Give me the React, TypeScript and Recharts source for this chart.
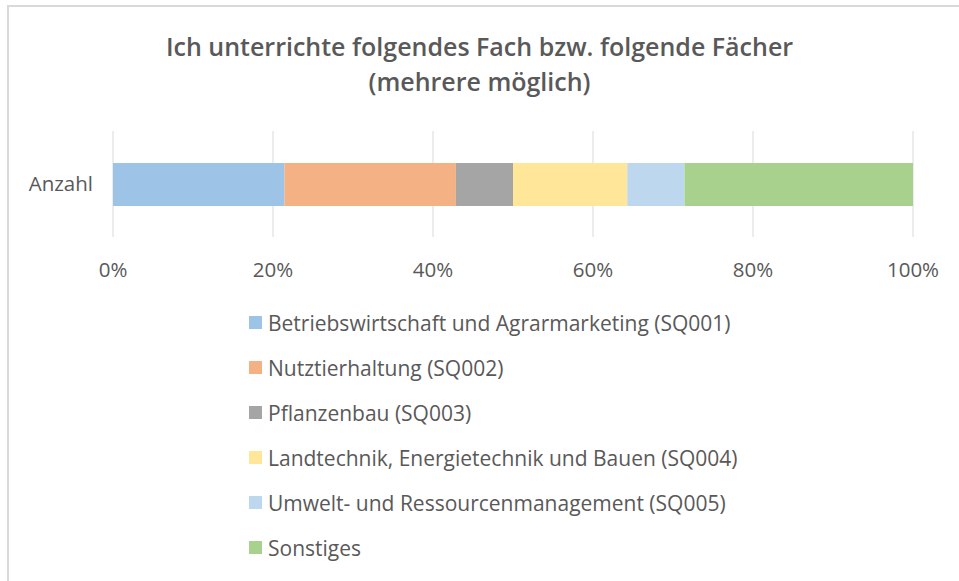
import { BarChart, Bar, XAxis, YAxis, CartesianGrid, Legend } from 'recharts'

const categories = ['Anzahl']
const seriesNames = [
  'Betriebswirtschaft und Agrarmarketing (SQ001)',
  'Nutztierhaltung (SQ002)',
  'Pflanzenbau (SQ003)',
  'Landtechnik, Energietechnik und Bauen (SQ004)',
  'Umwelt- und Ressourcenmanagement (SQ005)',
  'Sonstiges',
]
const seriesValues = [3, 3, 1, 2, 1, 4]
const seriesColors = ['#9dc3e6', '#f4b183', '#a5a5a5', '#ffe699', '#bdd7ee', '#a9d18e']
const xTicks = [0, 0.2, 0.4, 0.6, 0.8, 1]

const data = categories.map((name) => {
  const row: Record<string, string | number> = { name }
  seriesNames.forEach((s, i) => {
    row[s] = seriesValues[i]
  })
  return row
})

const FONT = '"Open Sans", "Noto Sans", sans-serif'
const TEXT = '#595959'

const LegendList = () => (
  <div style={{ fontFamily: FONT, fontSize: 21, color: TEXT }}>
    {seriesNames.map((s, i) => (
      <div key={s} style={{ display: 'flex', alignItems: 'center', height: 45, whiteSpace: 'nowrap' }}>
        <span style={{ width: 13, height: 13, background: seriesColors[i], marginRight: 6, display: 'inline-block', flex: 'none' }} />
        <span>{s}</span>
      </div>
    ))}
  </div>
)

const App = () => {
  return (
    <div style={{ position: 'absolute', left: 0, top: 0, width: 959, height: 581, background: '#fff', overflow: 'hidden' }}>
      <div
        style={{
          position: 'absolute',
          left: 7,
          top: 5,
          width: 960,
          height: 600,
          borderTop: '2px solid #d9d9d9',
          borderLeft: '2px solid #d9d9d9',
        }}
      />
      <div
        style={{
          position: 'absolute',
          left: 0,
          top: 29,
          width: 959,
          textAlign: 'center',
          fontFamily: FONT,
          fontWeight: 600,
          fontSize: 25,
          lineHeight: '35px',
          color: TEXT,
        }}
      >
        Ich unterrichte folgendes Fach bzw. folgende Fächer
        <br />
        (mehrere möglich)
      </div>
      <div style={{ position: 'absolute', left: 0, top: 0 }}>
        <BarChart
          width={959}
          height={581}
          data={data}
          layout="vertical"
          stackOffset="expand"
          margin={{ top: 131, right: 46, bottom: 284, left: 0 }}
        >
          <CartesianGrid horizontal={false} stroke="#d9d9d9" />
          <XAxis
            type="number"
            domain={[0, 1]}
            ticks={xTicks}
            tickFormatter={(v: number) => `${Math.round(v * 100)}%`}
            axisLine={false}
            tickLine={false}
            tickMargin={19}
            height={60}
            tick={{ fill: TEXT, fontSize: 20.5, fontFamily: FONT }}
          />
          <YAxis
            type="category"
            dataKey="name"
            width={113}
            axisLine={false}
            tickLine={false}
            tickMargin={14}
            tick={{ fill: TEXT, fontSize: 20.5, fontFamily: FONT }}
          />
          <Legend
            layout="vertical"
            align="center"
            verticalAlign="middle"
            wrapperStyle={{ left: 249, top: 300, width: 560 }}
            content={() => <LegendList />}
          />
          {seriesNames.map((s, i) => (
            <Bar key={s} dataKey={s} stackId="a" fill={seriesColors[i]} barSize={43} isAnimationActive={false} />
          ))}
        </BarChart>
      </div>
    </div>
  )
}

export default App
